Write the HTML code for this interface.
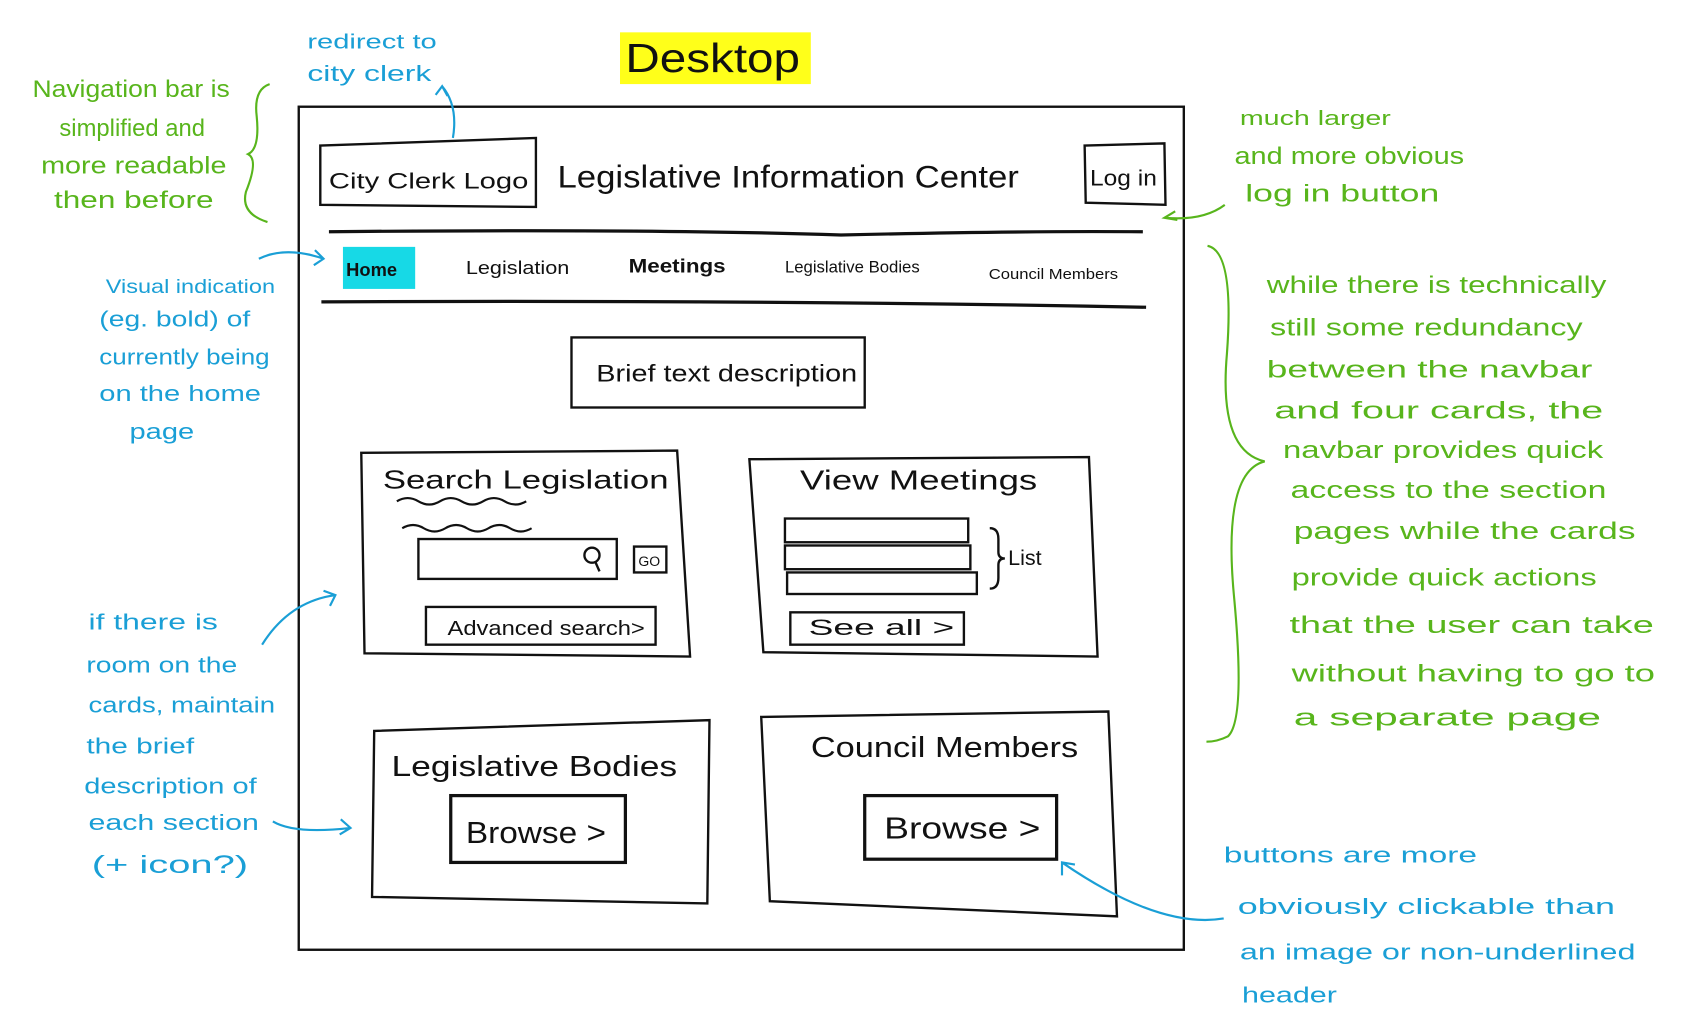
<!DOCTYPE html>
<html><head><meta charset="utf-8"><style>
html,body{margin:0;padding:0;background:#fff;width:1682px;height:1036px;overflow:hidden}
svg{display:block}
text{font-family:"Liberation Sans",sans-serif}
.k{fill:#111}
.g{fill:#58b51c;font-size:22px}
.b{fill:#1a9fd6;font-size:21px}
</style></head><body>
<svg width="1682" height="1036" viewBox="0 0 1560 961" xmlns="http://www.w3.org/2000/svg">
<g fill="none" stroke="#111" stroke-width="2.2">
<rect x="277" y="99" width="821" height="782"/>
<path d="M297 135 L497 128 L497 192 L297 190 Z"/>
<path d="M1006 135 L1080 133 L1081 190 L1007 188 Z"/>
<path d="M305 215 Q600 212 780 218 Q950 214 1060 215" stroke-width="3"/>
<path d="M298 280 Q700 278 1063 285" stroke-width="3"/>
<rect x="530" y="313" width="272" height="65"/>
<path d="M335 420 L628 418 L640 609 L338 606 Z"/>
<path d="M368 465 q10 -6 20 0 t20 0 t20 0 t20 0 t20 0 t20 0 M373 490 q10 -6 20 0 t20 0 t20 0 t20 0 t20 0 t20 0" stroke-width="2"/>
<rect x="388" y="500" width="184" height="37"/>
<circle cx="549" cy="515" r="7"/><path d="M552 521 L556 530"/>
<rect x="588" y="507" width="30" height="24"/>
<rect x="395" y="563" width="213" height="35"/>
<path d="M695 426 L1010 424 L1018 609 L708 605 Z"/>
<rect x="728" y="481" width="170" height="22"/>
<rect x="728" y="506" width="172" height="22"/>
<rect x="730" y="531" width="176" height="20"/>
<path d="M918 490 q8 0 8 10 v12 q0 6 6 6 q-6 0 -6 6 v12 q0 10 -8 10"/>
<rect x="733" y="568" width="161" height="30"/>
<path d="M347 678 L658 668 L656 838 L345 832 Z"/>
<rect x="418" y="738" width="162" height="62" stroke-width="3"/>
<path d="M706 665 L1028 660 L1036 850 L714 836 Z"/>
<rect x="802" y="738" width="178" height="59" stroke-width="3"/>
</g>
<rect x="575" y="30" width="177" height="48" fill="#ffff1a"/>
<text x="580" y="67" font-size="38" class="k" textLength="162" lengthAdjust="spacingAndGlyphs">Desktop</text>
<rect x="318" y="229" width="67" height="39" fill="#17d9e6"/>
<g class="k">
<text x="305" y="175" font-size="21" textLength="185" lengthAdjust="spacingAndGlyphs">City Clerk Logo</text>
<text x="517" y="174" font-size="29" textLength="428" lengthAdjust="spacingAndGlyphs">Legislative Information Center</text>
<text x="1011" y="172" font-size="21" textLength="62" lengthAdjust="spacingAndGlyphs">Log in</text>
<text x="321" y="256" font-size="17" font-weight="bold">Home</text>
<text x="432" y="254" font-size="17" textLength="96" lengthAdjust="spacingAndGlyphs">Legislation</text>
<text x="583" y="253" font-size="18" font-weight="bold" textLength="90" lengthAdjust="spacingAndGlyphs">Meetings</text>
<text x="728" y="253" font-size="15" textLength="125" lengthAdjust="spacingAndGlyphs">Legislative Bodies</text>
<text x="917" y="259" font-size="14" textLength="120" lengthAdjust="spacingAndGlyphs">Council Members</text>
<text x="553" y="354" font-size="22" textLength="242" lengthAdjust="spacingAndGlyphs">Brief text description</text>
<text x="355" y="453" font-size="24" textLength="265" lengthAdjust="spacingAndGlyphs">Search Legislation</text>
<text x="592" y="525" font-size="13">GO</text>
<text x="415" y="589" font-size="19" textLength="183" lengthAdjust="spacingAndGlyphs">Advanced search&gt;</text>
<text x="742" y="454" font-size="26" textLength="220" lengthAdjust="spacingAndGlyphs">View Meetings</text>
<text x="935" y="524" font-size="20">List</text>
<text x="750" y="589" font-size="21" textLength="135" lengthAdjust="spacingAndGlyphs">See all &gt;</text>
<text x="363" y="720" font-size="27" textLength="265" lengthAdjust="spacingAndGlyphs">Legislative Bodies</text>
<text x="432" y="782" font-size="28" textLength="130" lengthAdjust="spacingAndGlyphs">Browse &gt;</text>
<text x="752" y="702" font-size="27" textLength="248" lengthAdjust="spacingAndGlyphs">Council Members</text>
<text x="820" y="778" font-size="28" textLength="145" lengthAdjust="spacingAndGlyphs">Browse &gt;</text>
</g>
<g class="g">
<text x="30" y="90" textLength="183" lengthAdjust="spacingAndGlyphs">Navigation bar is</text>
<text x="55" y="126" textLength="135" lengthAdjust="spacingAndGlyphs">simplified and</text>
<text x="38" y="161" textLength="172" lengthAdjust="spacingAndGlyphs">more readable</text>
<text x="50" y="193" textLength="148" lengthAdjust="spacingAndGlyphs">then before</text>
<text x="1150" y="116" font-size="19" textLength="140" lengthAdjust="spacingAndGlyphs">much larger</text>
<text x="1145" y="152" textLength="213" lengthAdjust="spacingAndGlyphs">and more obvious</text>
<text x="1155" y="187" textLength="180" lengthAdjust="spacingAndGlyphs">log in button</text>
<text x="1175" y="272" textLength="315" lengthAdjust="spacingAndGlyphs">while there is technically</text>
<text x="1178" y="311" textLength="290" lengthAdjust="spacingAndGlyphs">still some redundancy</text>
<text x="1175" y="350" textLength="302" lengthAdjust="spacingAndGlyphs">between the navbar</text>
<text x="1182" y="388" textLength="305" lengthAdjust="spacingAndGlyphs">and four cards, the</text>
<text x="1190" y="425" textLength="297" lengthAdjust="spacingAndGlyphs">navbar provides quick</text>
<text x="1197" y="462" textLength="293" lengthAdjust="spacingAndGlyphs">access to the section</text>
<text x="1200" y="500" textLength="317" lengthAdjust="spacingAndGlyphs">pages while the cards</text>
<text x="1198" y="543" textLength="283" lengthAdjust="spacingAndGlyphs">provide quick actions</text>
<text x="1196" y="587" textLength="338" lengthAdjust="spacingAndGlyphs">that the user can take</text>
<text x="1198" y="632" textLength="337" lengthAdjust="spacingAndGlyphs">without having to go to</text>
<text x="1200" y="673" textLength="285" lengthAdjust="spacingAndGlyphs">a separate page</text>
</g>
<g fill="none" stroke="#58b51c" stroke-width="2">
<path d="M250 78 q-15 5 -12 30 q3 30 -8 35 q10 5 -2 35 q-5 20 20 28"/>
<path d="M1136 190 q-20 15 -55 12 M1090 196 l-10 6 l12 2"/>
<path d="M1120 228 q25 5 18 100 q-8 90 35 100 q-40 10 -28 130 q10 110 -6 125 q-10 5 -20 5"/>
</g>
<g class="b">
<text x="285" y="45" font-size="19" textLength="120" lengthAdjust="spacingAndGlyphs">redirect to</text>
<text x="285" y="75" textLength="115" lengthAdjust="spacingAndGlyphs">city clerk</text>
<text x="98" y="272" font-size="18" textLength="157" lengthAdjust="spacingAndGlyphs">Visual indication</text>
<text x="92" y="303" textLength="140" lengthAdjust="spacingAndGlyphs">(eg. bold) of</text>
<text x="92" y="338" textLength="158" lengthAdjust="spacingAndGlyphs">currently being</text>
<text x="92" y="372" textLength="150" lengthAdjust="spacingAndGlyphs">on the home</text>
<text x="120" y="407" textLength="60" lengthAdjust="spacingAndGlyphs">page</text>
<text x="82" y="584" textLength="120" lengthAdjust="spacingAndGlyphs">if there is</text>
<text x="80" y="624" textLength="140" lengthAdjust="spacingAndGlyphs">room on the</text>
<text x="82" y="661" textLength="173" lengthAdjust="spacingAndGlyphs">cards, maintain</text>
<text x="80" y="699" textLength="100" lengthAdjust="spacingAndGlyphs">the brief</text>
<text x="78" y="736" textLength="160" lengthAdjust="spacingAndGlyphs">description of</text>
<text x="82" y="770" textLength="158" lengthAdjust="spacingAndGlyphs">each section</text>
<text x="85" y="810" font-size="23" textLength="145" lengthAdjust="spacingAndGlyphs">(+ icon?)</text>
<text x="1135" y="800" textLength="235" lengthAdjust="spacingAndGlyphs">buttons are more</text>
<text x="1148" y="848" textLength="350" lengthAdjust="spacingAndGlyphs">obviously clickable than</text>
<text x="1150" y="890" textLength="367" lengthAdjust="spacingAndGlyphs">an image or non-underlined</text>
<text x="1152" y="930" textLength="88" lengthAdjust="spacingAndGlyphs">header</text>
</g>
<g fill="none" stroke="#1a9fd6" stroke-width="2">
<path d="M420 128 q5 -30 -10 -48 M404 88 l6 -8 l5 9"/>
<path d="M240 240 q25 -12 60 0 M292 232 l8 8 l-9 6"/>
<path d="M243 598 q25 -40 68 -46 M300 548 l11 4 l-5 10"/>
<path d="M253 762 q20 12 72 6 M316 760 l9 8 l-10 6"/>
<path d="M1135 852 q-60 10 -150 -52 M985 812 l0 -12 l12 2"/>
</g>
</svg>
</body></html>
